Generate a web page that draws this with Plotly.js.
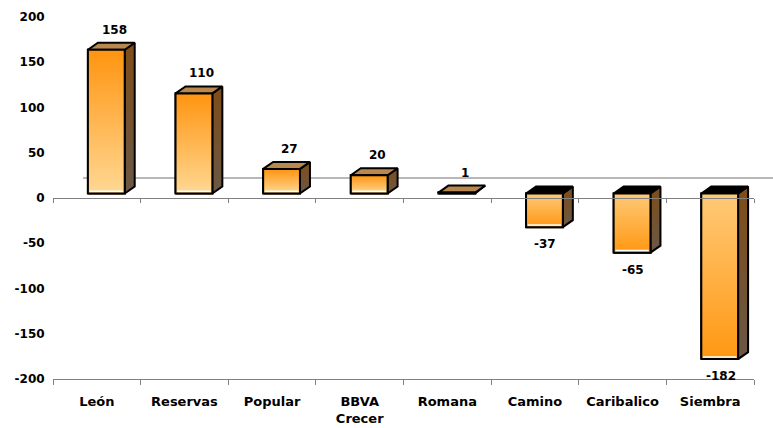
<!DOCTYPE html>
<html><head><meta charset="utf-8">
<script src="https://cdn.plot.ly/plotly-3.0.1.min.js"></script>
<style>html,body{margin:0;padding:0;background:#fff;}#chart{width:773px;height:428px;}</style>
</head><body><div id="chart"></div>
<script>
// ---- data ----
const categories = ['León', 'Reservas', 'Popular', 'BBVA<br>Crecer', 'Romana', 'Camino', 'Caribalico', 'Siembra'];
const values = [158, 110, 27, 20, 1, -37, -65, -182];
const yTickValues = [-200, -150, -100, -50, 0, 50, 100, 150, 200];
const yTickLabels = ['-200', '-150', '-100', '-50', '0', '50', '100', '150', '200'];

// ---- style constants ----
const PLOT_W = 701, PLOT_H = 362;
const CAT_PX = PLOT_W / categories.length;
const BAR_Y_PX = 0.91;              // px per unit for the bar axis
const HALF_W = 0.21;                // half bar width (category units)
const DX = 10 / CAT_PX;             // 3D depth offset in x
const DY = 7 / BAR_Y_PX;            // 3D depth offset in y
const FLOOR_DX_PX = 30, FLOOR_DY_PX = 20;
const FONT = 'DejaVu Sans';

const idx = categories.map((c, i) => i);
const boundaries = idx.map(i => i - 0.5).concat([categories.length - 0.5]);

const traces = [];
// invisible carrier trace for the category axis
traces.push({
  type: 'scatter', mode: 'markers', x: idx, y: idx.map(() => 0), xaxis: 'x', yaxis: 'y',
  marker: {size: 1, opacity: 0}, hoverinfo: 'skip', showlegend: false
});
// base bars (front faces)
traces.push({
  type: 'bar', x: idx, y: values, width: 2 * HALF_W, xaxis: 'x2', yaxis: 'y2',
  marker: {color: '#FFB24A', line: {color: '#000', width: 2}},
  hoverinfo: 'skip', showlegend: false
});

values.forEach((v, i) => {
  const lo = Math.min(v, 0), hi = Math.max(v, 0);
  const L = i - HALF_W, R = i + HALF_W;
  const pos = v > 0;
  // side face
  traces.push({
    type: 'scatter', mode: 'lines', xaxis: 'x2', yaxis: 'y2', fill: 'toself',
    x: [R, R + DX, R + DX, R, R], y: [lo, lo + DY, hi + DY, hi, lo],
    fillgradient: {type: 'vertical', colorscale: [[0, '#6a5846'], [1, '#7f4d18']]},
    line: {color: '#000', width: 2}, hoverinfo: 'skip', showlegend: false
  });
  // top face
  traces.push({
    type: 'scatter', mode: 'lines', xaxis: 'x2', yaxis: 'y2', fill: 'toself',
    x: [L, R, R + DX, L + DX, L], y: [hi, hi, hi + DY, hi + DY, hi],
    fillcolor: pos ? '#B9884F' : '#000000',
    line: {color: '#000', width: 2}, hoverinfo: 'skip', showlegend: false
  });
  // front face with gradient
  traces.push({
    type: 'scatter', mode: 'lines', xaxis: 'x2', yaxis: 'y2', fill: 'toself',
    x: [L, R, R, L, L], y: [lo, lo, hi, hi, lo],
    fillgradient: {type: 'vertical', colorscale: pos ? [[0, '#FFD893'], [1, '#FF9410']] : [[0, '#FF9812'], [1, '#FFC977']]},
    line: {color: '#000', width: 2}, hoverinfo: 'skip', showlegend: false
  });
  // white highlight along the bottom edge
  if (hi - lo > 3) {
    traces.push({
      type: 'scatter', mode: 'lines', xaxis: 'x2', yaxis: 'y2',
      x: [L + 0.02, R - 0.02], y: [lo + 2.2 / BAR_Y_PX, lo + 2.2 / BAR_Y_PX],
      line: {color: '#ffffff', width: 1.5}, hoverinfo: 'skip', showlegend: false
    });
  }
});

// carrier trace so the floor axis is drawn
traces.push({
  type: 'scatter', mode: 'markers', x: idx, y: idx.map(() => 0), xaxis: 'x3', yaxis: 'y',
  marker: {size: 1, opacity: 0}, hoverinfo: 'skip', showlegend: false
});

const annotations = values.map((v, i) => ({
  xref: 'x2', yref: 'y2', x: i, y: v, text: String(v), showarrow: false,
  xanchor: 'center', yanchor: v >= 0 ? 'bottom' : 'top',
  xshift: v >= 0 ? 8 : 1, yshift: v >= 0 ? 11 : -8,
  font: {family: FONT, size: 12, color: '#000', weight: 'bold'}
}));

const layout = {
  width: 773, height: 428,
  margin: {l: 53, r: 19, t: 17, b: 49, pad: 0},
  paper_bgcolor: '#ffffff', plot_bgcolor: 'rgba(0,0,0,0)',
  showlegend: false,
  font: {family: FONT, size: 12, color: '#000', weight: 'bold'},
  xaxis: {
    type: 'linear',
    range: [-0.5, categories.length - 0.5], tickmode: 'array', tickvals: idx, ticktext: categories,
    ticks: 'outside', ticklen: 5, tickcolor: 'rgba(0,0,0,0)', ticklabelstandoff: 5,
    showline: true, linecolor: '#808080', linewidth: 1, showgrid: false, zeroline: false,
    tickfont: {family: FONT, size: 13, color: '#000', weight: 'bold'},
    minor: {tickmode: 'array', tickvals: boundaries, ticks: 'outside', ticklen: 5, tickcolor: '#808080', tickwidth: 1, showgrid: false},
    fixedrange: true
  },
  yaxis: {
    type: 'linear',
    range: [-200, 200], tickmode: 'array', tickvals: yTickValues, ticktext: yTickLabels,
    ticks: 'outside', ticklen: 5, tickcolor: 'rgba(0,0,0,0)',
    showline: false, showgrid: false, zeroline: false,
    tickfont: {family: FONT, size: 12, color: '#000', weight: 'bold'}, fixedrange: true
  },
  xaxis2: {type: 'linear', overlaying: 'x', anchor: 'y2', range: [-0.5 - 9.5 / CAT_PX, categories.length - 0.5 - 9.5 / CAT_PX], visible: false, fixedrange: true},
  yaxis2: {type: 'linear', overlaying: 'y', anchor: 'x2', range: [-(PLOT_H - 176.5) / BAR_Y_PX, 176.5 / BAR_Y_PX], visible: false, fixedrange: true},
  xaxis3: {
    type: 'linear',
    overlaying: 'x', anchor: 'free', position: 0.5, range: [-0.5, categories.length - 0.5],
    tickmode: 'array', tickvals: boundaries, ticks: 'outside', ticklen: 4, tickcolor: '#808080',
    showticklabels: false, showline: true, linecolor: '#808080', linewidth: 1,
    showgrid: false, zeroline: false, fixedrange: true
  },
  shapes: [{
    type: 'line', layer: 'below', xref: 'paper', yref: 'y',
    x0: FLOOR_DX_PX / PLOT_W, x1: 1 + 19 / PLOT_W,
    y0: FLOOR_DY_PX / (PLOT_H / 400), y1: FLOOR_DY_PX / (PLOT_H / 400),
    line: {color: '#707070', width: 1}
  }],
  annotations: annotations
};

Plotly.newPlot('chart', traces, layout, {displayModeBar: false, staticPlot: true});
</script>
</body></html>
